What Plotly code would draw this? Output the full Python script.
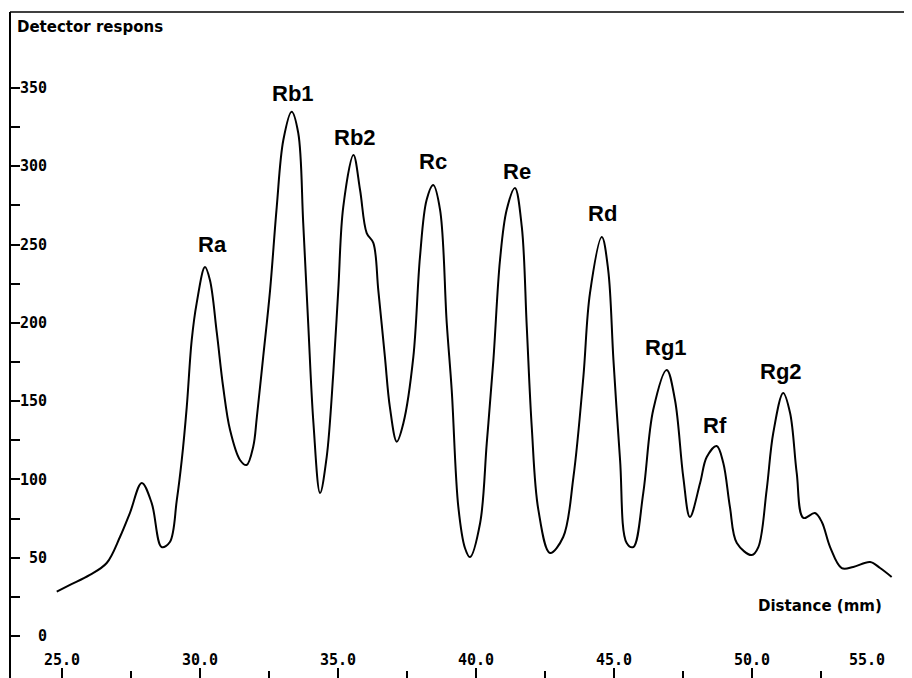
import plotly.graph_objects as go

# ---- data ----
distance_mm = [24.81, 25.29, 26.01, 26.62, 27.10, 27.46, 27.89, 28.25, 28.61, 28.91,
               29.16, 29.34, 29.52, 29.70, 29.88, 30.18, 30.36, 30.61, 30.84, 31.09,
               31.45, 31.69, 31.93, 32.06, 32.29, 32.54, 32.78, 33.02, 33.32, 33.56,
               33.74, 33.92, 34.11, 34.35, 34.59, 34.83, 35.01, 35.19, 35.56, 35.80,
               36.04, 36.28, 36.46, 36.70, 36.88, 37.13, 37.37, 37.73, 37.97, 38.21,
               38.45, 38.70, 38.94, 39.12, 39.36, 39.60, 39.78, 40.15, 40.39, 40.63,
               40.87, 41.11, 41.41, 41.66, 41.84, 42.02, 42.26, 42.68, 43.16, 43.53,
               43.89, 44.13, 44.56, 44.79, 44.98, 45.22, 45.46, 45.70, 46.06, 46.42,
               46.91, 47.21, 47.51, 47.75, 48.12, 48.36, 48.72, 48.96, 49.20, 49.45,
               49.99, 50.23, 50.53, 50.77, 51.13, 51.38, 51.62, 51.86, 52.28, 52.53,
               52.83, 53.25, 53.67, 54.28, 54.64, 55.06]
response = [28.3, 32.6, 39.0, 46.6, 63.2, 78.5, 97.7, 84.9, 56.8, 60.0,
            86.8, 112.4, 146.2, 189.0, 212.6, 235.6, 227.3, 193.5, 159.0, 131.5,
            112.4, 109.2, 121.0, 139.8, 178.2, 220.9, 273.9, 316.7, 334.8, 321.2,
            263.7, 199.9, 136.0, 91.3, 114.3, 167.9, 220.9, 273.9, 307.2, 284.8,
            257.3, 251.0, 220.9, 178.2, 146.2, 124.1, 136.0, 178.2, 242.0, 278.4,
            288.0, 272.0, 199.9, 157.1, 82.4, 56.2, 50.4, 72.2, 123.2, 176.2,
            240.1, 272.0, 286.1, 261.2, 197.3, 133.5, 80.5, 53.0, 63.2, 101.5,
            165.4, 219.0, 254.8, 233.7, 176.2, 112.4, 59.4, 56.8, 91.3, 144.3,
            169.9, 150.7, 101.5, 76.0, 97.7, 114.3, 121.3, 110.5, 82.4, 59.4,
            51.7, 56.8, 93.2, 129.6, 155.2, 142.4, 104.1, 75.4, 78.5, 72.8,
            56.8, 43.4, 44.1, 47.3, 43.4, 37.7]

peak_names = ["Ra", "Rb1", "Rb2", "Rc", "Re", "Rd", "Rg1", "Rf", "Rg2"]
peak_label_x = [30.44, 33.37, 35.62, 38.44, 41.49, 44.58, 46.88, 48.66, 51.05]
peak_label_y = [249.7, 346.7, 318.6, 302.7, 296.3, 270.1, 184.5, 134.7, 168.6]

x_tick_vals = [25, 30, 35, 40, 45, 50]
x_tick_text = ["25.0", "30.0", "35.0", "40.0", "45.0", "50.0"]
x_minor_vals = [27.5, 32.5, 37.5, 42.5, 47.5, 52.5]
x_last_label_val = 55
x_last_label_text = "55.0"
y_tick_vals = [0, 50, 100, 150, 200, 250, 300, 350]
y_tick_text = ["0", "50", "100", "150", "200", "250", "300", "350"]
y_minor_vals = [25, 75, 125, 175, 225, 275, 325]

y_title = "Detector respons"
x_title = "Distance (mm)"

# ---- figure ----
# the page body has an 8px margin, so the figure is sized to the visible area
W, H = 904, 670
OFF = 8
NB = "\u00a0"
mono = dict(family="DejaVu Sans Mono, monospace", size=15, color="black", weight="bold")


def px(x):
    return (x - OFF) / W


def py(y):
    return 1 - (y - OFF) / H


fig = go.Figure()
fig.add_trace(go.Scatter(
    x=distance_mm, y=response, mode="lines",
    line=dict(color="black", width=2, shape="spline", smoothing=1.0),
    hoverinfo="skip",
))

ytop = py(12)
fig.update_layout(
    width=W, height=H,
    margin=dict(l=0, r=0, t=0, b=0),
    paper_bgcolor="white", plot_bgcolor="white",
    showlegend=False,
    xaxis=dict(
        domain=[0, 1], range=[23.044, 55.797],
        showgrid=False, zeroline=False, showline=False,
        tickmode="array", tickvals=x_tick_vals, ticktext=x_tick_text,
        ticks="inside", ticklen=10, tickwidth=1.5, tickcolor="black",
        ticklabelposition="inside", tickfont=mono,
        minor=dict(tickmode="array", tickvals=x_minor_vals, ticks="inside",
                   ticklen=7, tickwidth=1.5, tickcolor="black", showgrid=False),
    ),
    yaxis=dict(
        domain=[0, ytop], range=[-26.82, 398.47],
        anchor="free", position=px(10),
        showgrid=False, zeroline=False,
        showline=True, linewidth=2, linecolor="black",
        tickmode="array", tickvals=y_tick_vals,
        ticktext=[NB * (3 - len(t)) + t for t in y_tick_text],
        ticks="inside", ticklen=9, tickwidth=1.5, tickcolor="black",
        ticklabelposition="inside", tickfont=mono,
        minor=dict(tickmode="array", tickvals=y_minor_vals, ticks="inside",
                   ticklen=9, tickwidth=1.5, tickcolor="black", showgrid=False),
    ),
)

fig.add_shape(type="line", xref="paper", yref="paper",
              x0=px(10), x1=1, y0=ytop, y1=ytop,
              line=dict(color="black", width=1.5))

# last x label, drawn pulled in from the right edge as in the original
fig.add_annotation(text=x_last_label_text, x=x_last_label_val, xref="x",
                   y=py(660), yref="paper", xshift=-23,
                   xanchor="center", yanchor="middle", showarrow=False,
                   font=mono)

fig.add_annotation(text="<b>" + y_title + "</b>", xref="paper", yref="paper",
                   x=px(15), y=py(27), xanchor="left", yanchor="middle",
                   showarrow=False,
                   font=dict(family="DejaVu Sans, sans-serif", size=15, color="black"))
fig.add_annotation(text="<b>" + x_title + "</b>", xref="paper", yref="paper",
                   x=px(884), y=py(606), xanchor="right", yanchor="middle",
                   showarrow=False,
                   font=dict(family="DejaVu Sans, sans-serif", size=15, color="black"))

for name, lx, ly in zip(peak_names, peak_label_x, peak_label_y):
    fig.add_annotation(text="<b>" + name + "</b>", x=lx, y=ly, xref="x", yref="y",
                       showarrow=False, xanchor="center", yanchor="middle",
                       font=dict(family="Arial, Liberation Sans, sans-serif", size=22,
                                 color="black"))

fig.write_html("out.html")
